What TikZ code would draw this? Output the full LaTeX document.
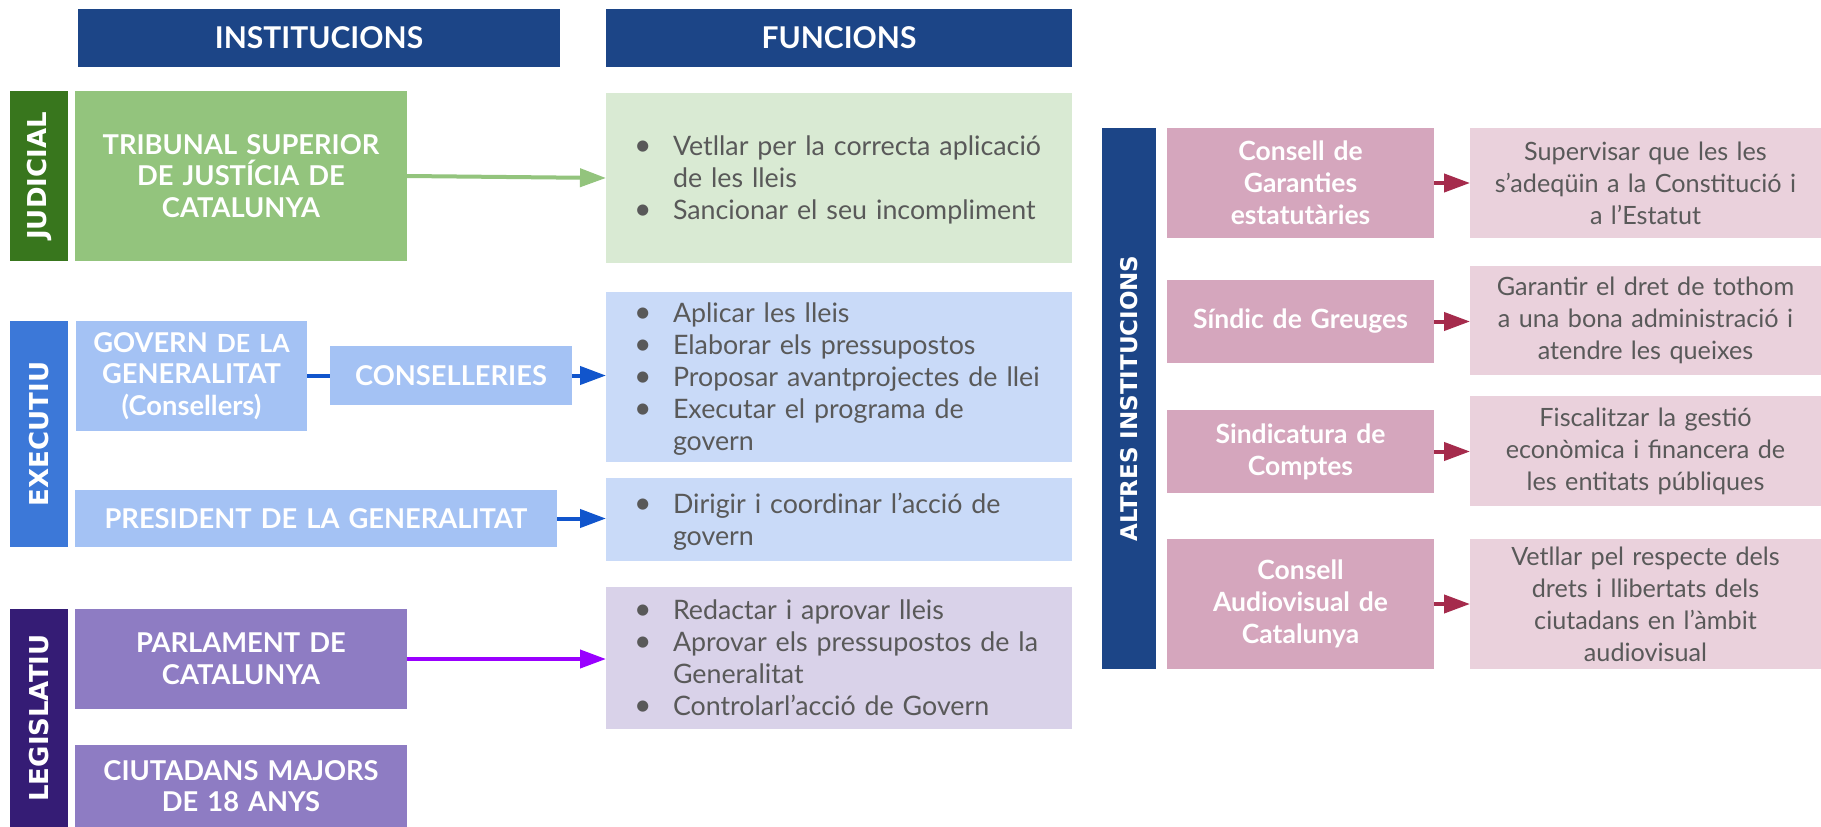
\documentclass[tikz,border=0pt]{standalone}
\usepackage{fontspec}
\setmainfont{Lato}
\newfontfamily\vfont{DejaVu Sans}
\usetikzlibrary{arrows.meta}
\definecolor{hdr}{HTML}{1C4587}
\definecolor{judD}{HTML}{38761D}
\definecolor{judM}{HTML}{93C47D}
\definecolor{judL}{HTML}{D9EAD3}
\definecolor{exeD}{HTML}{3C78D8}
\definecolor{exeM}{HTML}{A4C2F4}
\definecolor{exeL}{HTML}{C9DAF8}
\definecolor{legD}{HTML}{351C75}
\definecolor{legM}{HTML}{8E7CC3}
\definecolor{legL}{HTML}{D9D2E9}
\definecolor{pinkM}{HTML}{D5A6BD}
\definecolor{pinkL}{HTML}{EAD1DC}
\definecolor{txtgrey}{HTML}{595959}
\definecolor{gArrow}{HTML}{93C47D}
\definecolor{bArrow}{HTML}{1155CC}
\definecolor{pArrow}{HTML}{9900FF}
\definecolor{rArrow}{HTML}{A52B4C}
\newcommand{\flist}[1]{\raisebox{-3.5pt}[\height][\depth]{\begin{tabular}{@{\hspace{28pt}}p{39pt}@{}l@{}}#1\end{tabular}}}
\newcommand{\bul}{{\fontsize{30}{32}\selectfont\textbullet}}
\tikzset{
  base/.style={inner sep=0pt, outer sep=0pt, anchor=north west},
  hdrbox/.style={base, fill=hdr, text=white, font=\fontsize{30}{36}\selectfont\bfseries, align=center},
  barbox/.style={base},
  vlab/.style={inner sep=0pt, text=white, font=\vfont\bfseries\fontsize{26}{30}\selectfont, rotate=90},
  instbox/.style={base, text=white, align=center, font=\fontsize{27.3}{31.7}\selectfont\bfseries},
  funbox/.style={base, text=txtgrey, align=left, text width=466pt, font=\fontsize{26.8}{32}\selectfont},
  pinkbox/.style={base, fill=pinkM, text=white, align=center, minimum width=267pt, text width=267pt, font=\fontsize{26.5}{32}\selectfont\bfseries},
  pfunbox/.style={base, fill=pinkL, text=txtgrey, align=center, minimum width=351pt, text width=351pt, font=\fontsize{25.2}{32}\selectfont},
  arr/.style={line width=4pt, -{Triangle[length=26pt,width=18pt]}},
  link/.style={line width=4pt}
}
\begin{document}
\begin{tikzpicture}[x=1pt,y=-1pt]
\useasboundingbox[fill=white] (0,0) rectangle (1821,827);
% headers
\node[hdrbox, minimum width=482pt, minimum height=58pt] (hinst) at (78,9) {INSTITUCIONS};
\node[hdrbox, minimum width=466pt, minimum height=58pt] (hfun) at (606,9) {FUNCIONS};
% judicial
\node[barbox, fill=judD, minimum width=58pt, minimum height=170pt] (jbar) at (10,91) {};
\node[vlab] (jlab) at (jbar.center) {JUDICIAL};
\node[instbox, fill=judM, minimum width=332pt, text width=332pt, minimum height=170pt] (trib) at (75,91) {TRIBUNAL SUPERIOR\\DE JUSTÍCIA DE\\CATALUNYA};
\node[funbox, fill=judL, minimum height=170pt] (fg) at (606,93) {\flist{\bul & Vetllar per la correcta aplicació\\ & de les lleis\\ \bul & Sancionar el seu incompliment}};
% executiu
\node[barbox, fill=exeD, minimum width=58pt, minimum height=226pt] (ebar) at (10,321) {};
\node[vlab] (elab) at (ebar.center) {EXECUTIU};
\node[instbox, fill=exeM, minimum width=231pt, text width=231pt, minimum height=110pt] (gov) at (76,321) {GOVERN {\fontsize{25}{31.7}\selectfont DE LA}\\GENERALITAT\\(Consellers)};
\node[instbox, fill=exeM, minimum width=242pt, text width=242pt, minimum height=59pt] (cons) at (330,346) {CONSELLERIES};
\node[instbox, fill=exeM, minimum width=482pt, text width=482pt, minimum height=57pt] (pres) at (75,490) {PRESIDENT DE LA GENERALITAT};
\node[funbox, fill=exeL, minimum height=170pt] (fb1) at (606,292) {\flist{\bul & Aplicar les lleis\\ \bul & Elaborar els pressupostos\\ \bul & Proposar avantprojectes de llei\\ \bul & Executar el programa de\\ & govern}};
\node[funbox, fill=exeL, minimum height=83pt] (fb2) at (606,478) {\flist{\bul & Dirigir i coordinar l’acció de\\ & govern}};
% legislatiu
\node[barbox, fill=legD, minimum width=58pt, minimum height=218pt] (lbar) at (10,609) {};
\node[vlab] (llab) at (lbar.center) {LEGISLATIU};
\node[instbox, fill=legM, minimum width=332pt, text width=332pt, minimum height=100pt] (parl) at (75,609) {PARLAMENT DE\\CATALUNYA};
\node[instbox, fill=legM, minimum width=332pt, text width=332pt, minimum height=82pt] (ciut) at (75,745) {CIUTADANS MAJORS\\DE 18 ANYS};
\node[funbox, fill=legL, minimum height=142pt] (fp) at (606,587) {\flist{\bul & Redactar i aprovar lleis\\ \bul & Aprovar els pressupostos de la\\ & Generalitat\\ \bul & Controlarl’acció de Govern}};
% altres institucions
\node[barbox, fill=hdr, minimum width=54pt, minimum height=541pt] (abar) at (1102,128) {};
\node[vlab, font=\vfont\bfseries\fontsize{23}{27}\selectfont] (alab) at (abar.center) {ALTRES INSTITUCIONS};
\node[pinkbox, minimum height=110pt] (g1) at (1167,128) {Consell de\\Garanties\\estatutàries};
\node[pfunbox, minimum height=110pt] (f1) at (1470,128) {Supervisar que les les\\s’adeqüin a la Constitució i\\a l’Estatut};
\node[pinkbox, minimum height=83pt] (g2) at (1167,280) {Síndic de Greuges};
\node[pfunbox, minimum height=109pt] (f2) at (1470,266) {Garantir el dret de tothom\\a una bona administració i\\atendre les queixes};
\node[pinkbox, minimum height=83pt] (g3) at (1167,410) {Sindicatura de\\Comptes};
\node[pfunbox, minimum height=110pt] (f3) at (1470,396) {Fiscalitzar la gestió\\econòmica i financera de\\les entitats públiques};
\node[pinkbox, minimum height=130pt] (g4) at (1167,539) {Consell\\Audiovisual de\\Catalunya};
\node[pfunbox, minimum height=130pt] (f4) at (1470,539) {Vetllar pel respecte dels\\drets i llibertats dels\\ciutadans en l’àmbit\\audiovisual};
% connectors
\draw[arr, draw=gArrow] (trib.east) -- (fg.west);
\draw[link, draw=bArrow] (gov.east |- cons.west) -- (cons.west);
\draw[arr, draw=bArrow] (cons.east) -- (cons.east -| fb1.west);
\draw[arr, draw=bArrow] (pres.east) -- (pres.east -| fb2.west);
\draw[arr, draw=pArrow] (parl.east) -- (parl.east -| fp.west);
\draw[arr, draw=rArrow] (g1.east) -- (g1.east -| f1.west);
\draw[arr, draw=rArrow] (g2.east) -- (g2.east -| f2.west);
\draw[arr, draw=rArrow] (g3.east) -- (g3.east -| f3.west);
\draw[arr, draw=rArrow] (g4.east) -- (g4.east -| f4.west);
\end{tikzpicture}
\end{document}
